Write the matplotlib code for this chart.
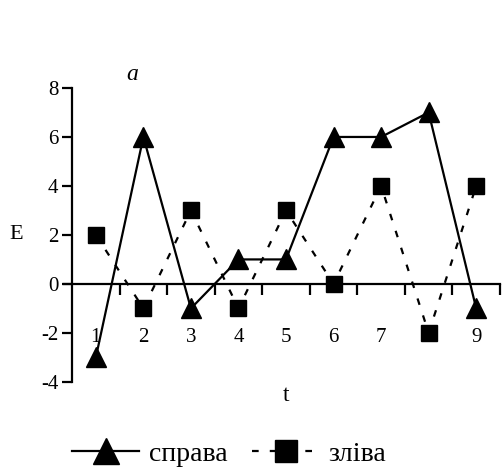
import numpy as np
import matplotlib.pyplot as plt

plt.rcParams['font.family'] = ['Liberation Serif', 'DejaVu Serif']

t = [1, 2, 3, 4, 5, 6, 7, 8, 9]
sprava = [-3, 6, -1, 1, 1, 6, 6, 7, -1]
zliva = [2, -1, 3, -1, 3, 0, 4, -2, 4]
yticks = [-4, -2, 0, 2, 4, 6, 8]

fig = plt.figure(figsize=(5.04, 4.68), dpi=100)
ax = fig.add_axes([0.143, 0.184, 0.849, 0.628])

l1, = ax.plot(t, sprava, 'k-', lw=1.6, marker='^', ms=14, label='справа')
l2, = ax.plot(t, zliva, color='k', ls=(0, (3, 5)), lw=1.6, marker='s', ms=12,
              label='зліва')

ax.set_xlim(0.5, 9.5)
ax.set_ylim(-4, 8)

# axis styling
ax.spines['top'].set_visible(False)
ax.spines['right'].set_visible(False)
ax.spines['bottom'].set_position(('data', 0))
ax.spines['left'].set_linewidth(1.6)
ax.spines['bottom'].set_linewidth(1.6)
ax.spines['bottom'].set_bounds(0.34, 9.5)

ax.set_yticks(yticks)
ax.set_yticklabels([str(v) for v in yticks], fontsize=15)
ax.tick_params(axis='y', direction='out', length=7, width=1.6, pad=3)

ax.set_xticks(t)
ax.set_xticklabels([str(v) for v in t], fontsize=15)
ax.set_xticks(np.arange(1.5, 10, 1), minor=True)
ax.tick_params(axis='x', which='major', length=0, pad=32)
ax.tick_params(axis='x', which='minor', direction='out', length=8, width=1.6)

ax.text(-0.68, 2, 'E', fontsize=16, ha='center', va='center')
ax.text(5, -4.55, 't', fontsize=17, ha='center', va='center')
ax.set_title('a', fontsize=17, style='italic', x=0.14, pad=6)

fig.legend(handles=[l1, l2], loc='center', ncol=2, frameon=False,
           fontsize=20, bbox_to_anchor=(0.455, 0.03), handlelength=2.4,
           columnspacing=0.9, handletextpad=0.35, markerscale=1.3)

fig.savefig('out.png', dpi=100)
